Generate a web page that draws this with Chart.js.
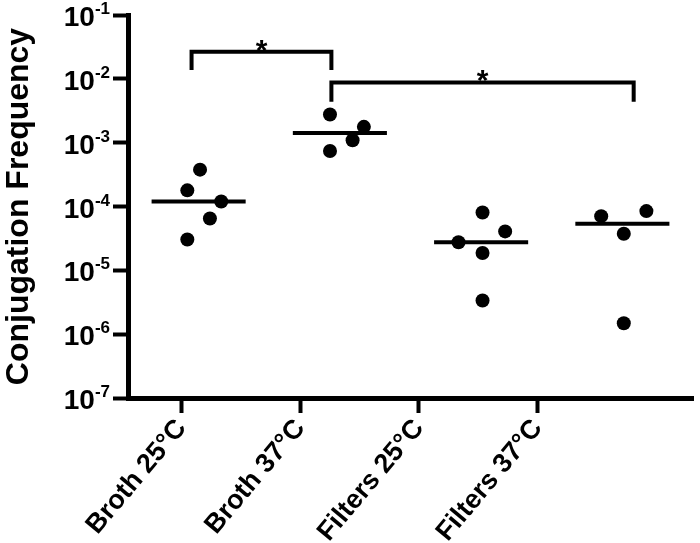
<!DOCTYPE html>
<html>
<head>
<meta charset="utf-8">
<script src="https://cdn.jsdelivr.net/npm/chart.js@4.4.0/dist/chart.umd.min.js"></script>
<style>
html, body { margin: 0; padding: 0; background: #fff; }
#wrap { width: 700px; height: 543px; }
</style>
</head>
<body>
<div id="wrap"><canvas id="conjChart"></canvas></div>
<script>
var groups = ['Broth 25°C', 'Broth 37°C', 'Filters 25°C', 'Filters 37°C'];
// the category ticks sit a little left of the dot columns in the original figure
var groupTicks = [0.88, 1.72, 2.56, 3.40];
var yTickExps = [-1, -2, -3, -4, -5, -6, -7];

var broth25 = [3.78e-4, 1.79e-4, 1.20e-4, 6.5e-5, 3.04e-5];
var broth37 = [2.76e-3, 1.77e-3, 1.09e-3, 7.41e-4];
var filters25 = [8.07e-5, 4.07e-5, 2.76e-5, 1.87e-5, 3.36e-6];
var filters37 = [8.47e-5, 7.06e-5, 3.74e-5, 1.48e-6];
var medians = [1.20e-4, 1.42e-3, 2.76e-5, 5.37e-5];

// sideways scatter of the dots inside each column
var broth25Jitter = [0.01, -0.08, 0.16, 0.08, -0.08];
var broth37Jitter = [-0.07, 0.17, 0.09, -0.07];
var filters25Jitter = [0.01, 0.17, -0.16, 0.01, 0.01];
var filters37Jitter = [0.17, -0.15, 0.01, 0.01];

// significance brackets (column units, y values)
var bracketLeftX = [0.95, 0.95, 1.94, 1.94];
var bracketLeftY = [1.37e-2, 2.65e-2, 2.65e-2, 1.37e-2];
var bracketRightX = [1.94, 1.94, 4.08, 4.08];
var bracketRightY = [4.36e-3, 8.77e-3, 8.77e-3, 4.36e-3];
var starLabels = ['*', '*'];

var FONT = '"Liberation Sans", Arial, sans-serif';

function dots(values, jitter, col) {
    return values.map(function(v, i) { return { x: col + jitter[i], y: v }; });
}

function zipXY(xs, ys) {
    return xs.map(function(x, i) { return { x: x, y: ys[i] }; });
}

var allDots = []
    .concat(dots(broth25, broth25Jitter, 1))
    .concat(dots(broth37, broth37Jitter, 2))
    .concat(dots(filters25, filters25Jitter, 3))
    .concat(dots(filters37, filters37Jitter, 4));

var lineStyle = {
    type: 'line',
    showLine: true,
    borderColor: '#000',
    borderWidth: 4,
    pointRadius: 0,
    borderCapStyle: 'butt',
    borderJoinStyle: 'miter',
    tension: 0
};

var datasets = [{
    type: 'scatter',
    data: allDots,
    pointRadius: 7,
    pointBackgroundColor: '#000',
    pointBorderWidth: 0
}];

medians.forEach(function(m, i) {
    datasets.push(Object.assign({}, lineStyle, {
        data: [{ x: i + 1 - 0.333, y: m }, { x: i + 1 + 0.333, y: m }]
    }));
});
datasets.push(Object.assign({}, lineStyle, { data: zipXY(bracketLeftX, bracketLeftY) }));
datasets.push(Object.assign({}, lineStyle, { data: zipXY(bracketRightX, bracketRightY) }));

var extras = {
    id: 'extras',
    afterDraw: function(chart) {
        var ctx = chart.ctx;
        var ys = chart.scales.y;
        var xs = chart.scales.x;
        ctx.save();
        ctx.fillStyle = '#000';
        ctx.textBaseline = 'alphabetic';
        ctx.textAlign = 'right';
        yTickExps.forEach(function(e) {
            var py = ys.getPixelForValue(Math.pow(10, e));
            var sup = '-' + Math.abs(e);
            var right = ys.right - 18;
            ctx.font = 'bold 17px ' + FONT;
            var supW = ctx.measureText(sup).width;
            ctx.fillText(sup, right, py - 1);
            ctx.font = 'bold 28px ' + FONT;
            ctx.fillText('10', right - supW, py + 11);
        });
        ctx.textAlign = 'center';
        ctx.font = 'bold 30px ' + FONT;
        [[bracketLeftX, bracketLeftY], [bracketRightX, bracketRightY]].forEach(function(b, i) {
            var px = xs.getPixelForValue((b[0][0] + b[0][3]) / 2);
            var py = ys.getPixelForValue(b[1][1]);
            ctx.fillText(starLabels[i], px, py + 8);
        });
        ctx.restore();
    }
};

var conjChart = new Chart(document.getElementById('conjChart'), {
    data: { datasets: datasets },
    options: {
        responsive: true,
        maintainAspectRatio: false,
        animation: false,
        layout: { padding: { top: 15, right: 0, left: 0, bottom: 0 } },
        plugins: { legend: { display: false }, tooltip: { enabled: false } },
        scales: {
            x: {
                type: 'linear',
                min: 0.5,
                max: 4.5,
                afterBuildTicks: function(scale) {
                    scale.ticks = groupTicks.map(function(v) { return { value: v }; });
                },
                afterFit: function(scale) {
                    scale.height = 145;
                    scale.paddingLeft = 0;
                    scale.paddingRight = 0;
                },
                border: { display: true, color: '#000', width: 5 },
                grid: { drawOnChartArea: false, drawTicks: true, tickLength: 15, tickWidth: 4, tickColor: '#000' },
                ticks: {
                    color: '#000',
                    font: { family: FONT, size: 27, weight: 'bold' },
                    minRotation: 50,
                    maxRotation: 50,
                    padding: 0,
                    callback: function(v, i) { return groups[i]; }
                }
            },
            y: {
                type: 'logarithmic',
                min: 1e-7,
                max: 1e-1,
                afterBuildTicks: function(scale) {
                    scale.ticks = yTickExps.map(function(e) { return { value: Math.pow(10, e), major: true }; });
                },
                afterFit: function(scale) {
                    scale.width = 128;
                },
                border: { display: true, color: '#000', width: 5 },
                grid: { drawOnChartArea: false, drawTicks: true, tickLength: 15, tickWidth: 4, tickColor: '#000' },
                ticks: { display: false },
                title: {
                    display: true,
                    text: 'Conjugation Frequency',
                    color: '#000',
                    font: { family: FONT, size: 32, weight: 'bold' },
                    padding: { top: 0, bottom: 0 }
                }
            }
        }
    },
    plugins: [extras]
});
</script>
</body>
</html>
